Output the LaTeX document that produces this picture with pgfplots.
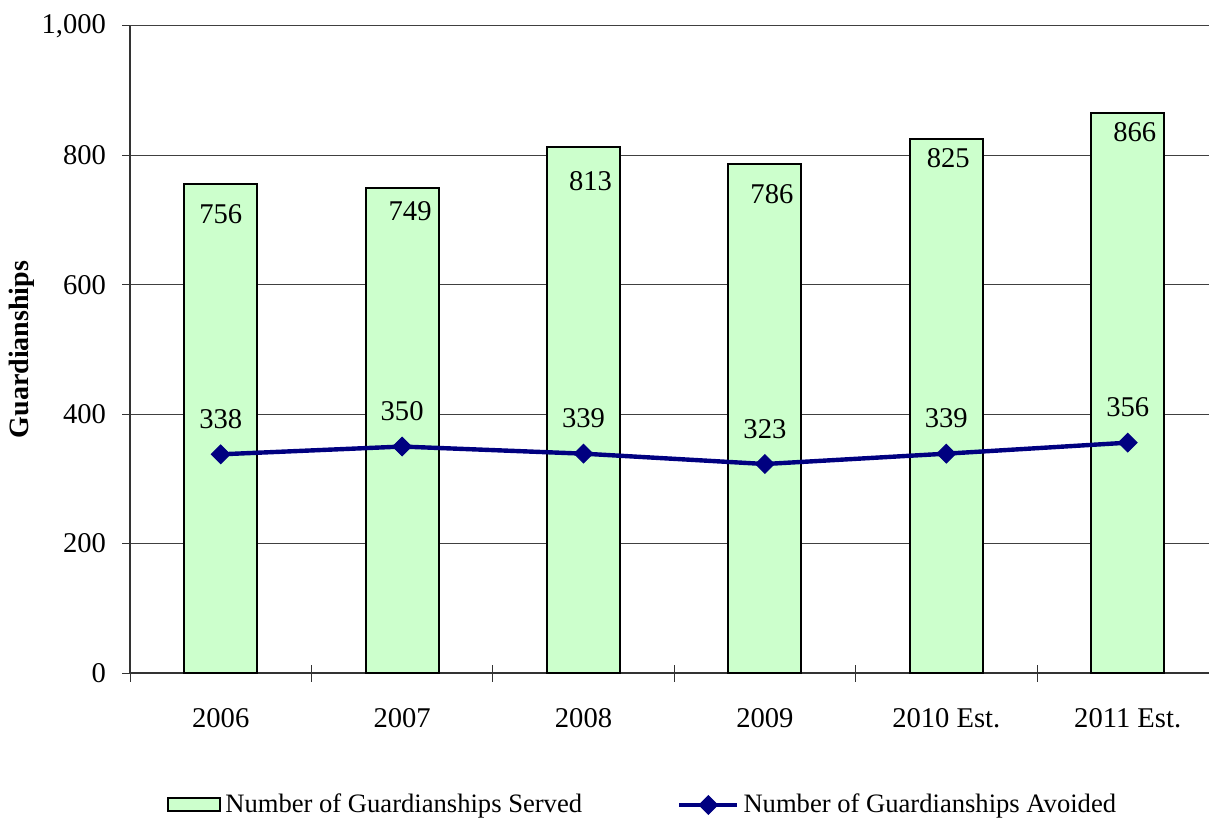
\documentclass[border=0pt]{standalone}
\usepackage{pgfplots}
\usepackage{pgfplotstable}
\pgfplotsset{compat=1.18}
\usepackage{fontspec}
\setmainfont{Liberation Serif}
\definecolor{barfill}{HTML}{CCFFCC}
\definecolor{navyline}{HTML}{000080}
\pgfplotsset{
  barlegend/.style={legend image code/.code={\draw[fill=barfill, draw=black, line width=1pt] (0pt,-3.25pt) rectangle (26pt,3.25pt);}},
  linelegend/.style={legend image code/.code={\draw[##1, mark repeat=2, mark phase=2] plot coordinates {(0pt,0pt) (14.5pt,0pt) (29pt,0pt)};}},
}
% served: value, label x offset (pt), label y offset (pt)
\pgfplotstableread{
x y dx dy
0 756 0.0 -6.7
1 749 4.0 -2.7
2 813 3.5 -8.2
3 786 3.5 -6.2
4 825 1.0 -0.8
5 866 3.5 -1.2
}\served
\pgfplotstableread{
x y
0 338
1 350
2 339
3 323
4 339
5 356
}\avoided
\begin{document}
\begin{tikzpicture}
\begin{axis}[
  name=ax,
  scale only axis,
  width=544.2pt, height=323.5pt,
  xmin=-0.5, xmax=5.5,
  ymin=0, ymax=1000,
  ytick={0,200,400,600,800,1000},
  xtick={0,1,2,3,4,5},
  xticklabels={2006,2007,2008,2009,2010 Est.,2011 Est.},
  minor xtick={-0.5,0.5,1.5,2.5,3.5,4.5,5.5},
  axis x line*=bottom,
  axis y line*=left,
  axis line style={black!80, line width=0.6pt},
  tick align=outside,
  major tick length=4pt,
  minor tick length=8.5pt,
  major x tick style={draw=none},
  minor x tick style={black!80, line width=0.5pt, yshift=4.25pt},
  y tick style={black!80, line width=0.5pt},
  ymajorgrids,
  major grid style={black!75, line width=0.5pt},
  tick label style={font=\fontsize{14.3pt}{16pt}\selectfont},
  /pgf/number format/assume math mode=true,
  /pgf/number format/1000 sep={,},
  xticklabel style={yshift=-10pt},
  yticklabel style={xshift=-4.5pt},
  ylabel={\textbf{Guardianships}},
  ylabel style={at={(axis description cs:-0.0992,0.5)}, anchor=center, font=\fontsize{14pt}{16pt}\selectfont},
  legend columns=2,
  legend style={draw=none, at={(axis description cs:0.472,-0.204)}, anchor=center,
    font=\fontsize{13.3pt}{15pt}\selectfont,
    /tikz/every even column/.append style={column sep=45.5pt},
    inner sep=0pt},
  clip=false,
]
\addplot[ybar, bar width=36.5pt, fill=barfill, draw=black, line width=1pt,
  nodes near coords,
  visualization depends on={\thisrow{dx} \as \ldx},
  visualization depends on={\thisrow{dy} \as \ldy},
  every node near coord/.append style={anchor=north, xshift=\ldx pt, yshift=\ldy pt, font=\fontsize{14.3pt}{16pt}\selectfont, text=black},
  barlegend]
  table[x=x, y=y] {\served};
\addlegendentry{Number of Guardianships Served}
\addplot[navyline, line width=2.2pt, mark=square*, mark size=3.3pt, mark options={rotate=45, fill=navyline, draw=navyline, line width=0.5pt},
  nodes near coords,
  every node near coord/.append style={anchor=south, yshift=9.2pt, font=\fontsize{14.3pt}{16pt}\selectfont, text=black},
  linelegend]
  table[x=x, y=y] {\avoided};
\addlegendentry{Number of Guardianships Avoided}
\end{axis}
\pgfresetboundingbox
\path[use as bounding box] ([xshift=-65pt,yshift=-73pt]ax.south west) rectangle ([xshift=-4.7pt,yshift=13pt]ax.north east);
\end{tikzpicture}
\end{document}
